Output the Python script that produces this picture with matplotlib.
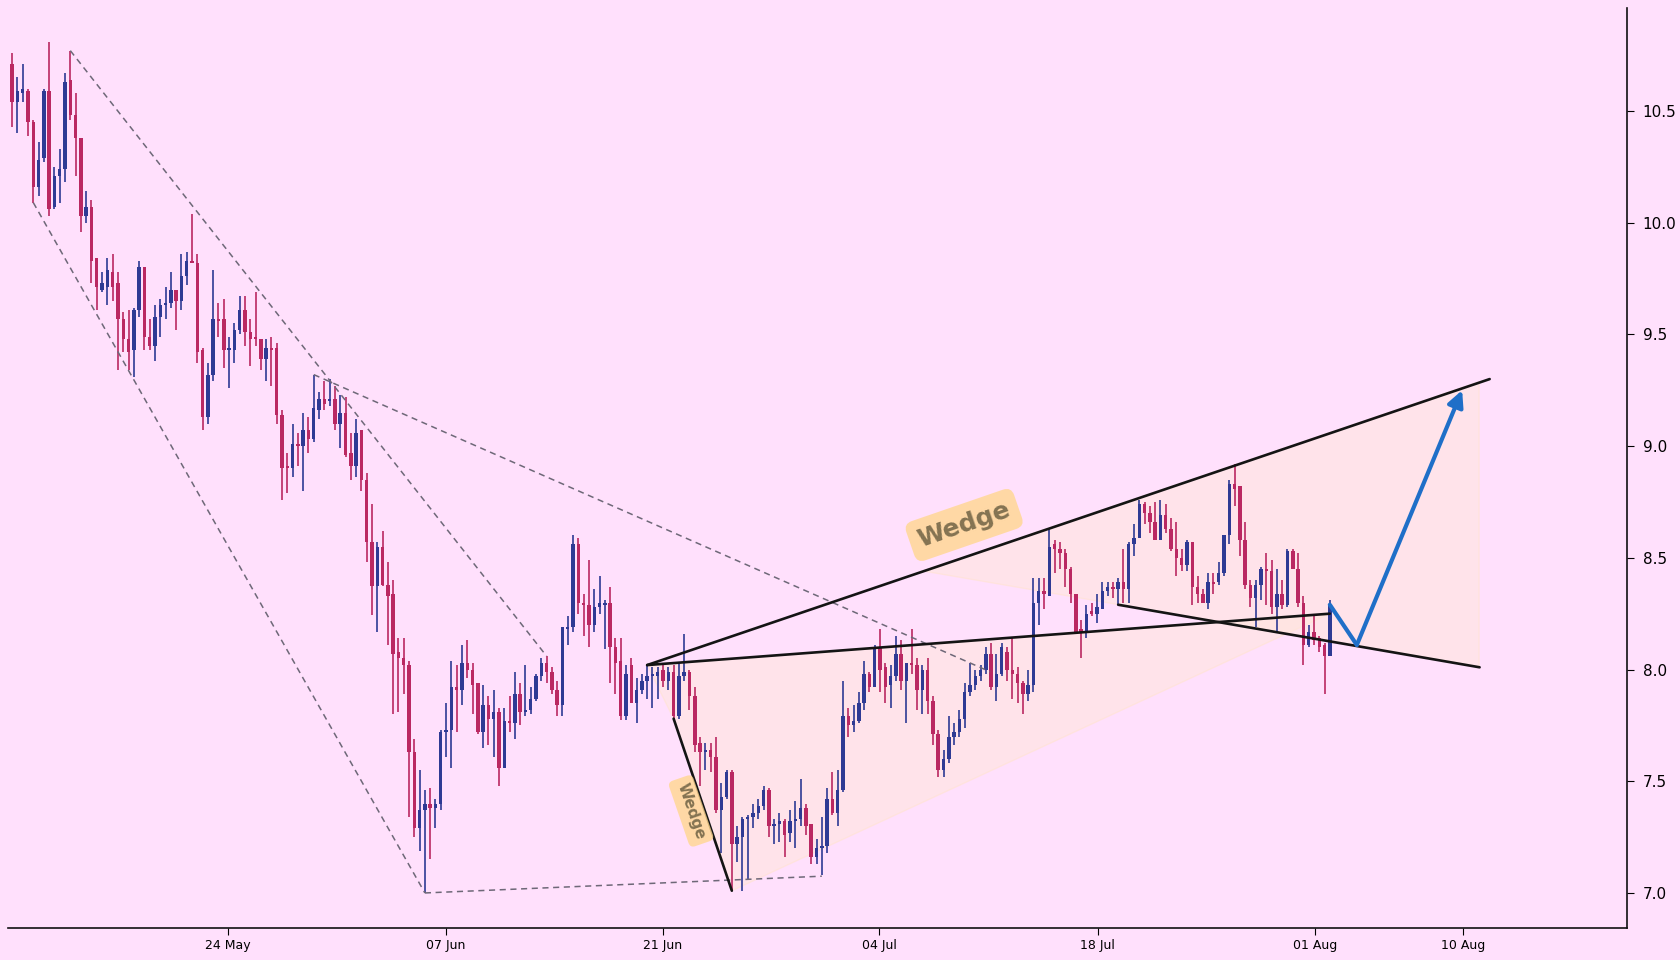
import matplotlib
matplotlib.use("Agg")
import matplotlib.pyplot as plt
import numpy as np
from matplotlib.patches import Polygon

# ---------------- data (8h candles, index based x axis) ----------------
opens = [10.71, 10.54, 10.58, 10.59, 10.45, 10.16, 10.29, 10.59, 10.07, 10.21,
         10.24, 10.64, 10.48, 10.38, 10.03, 10.07, 9.84, 9.70, 9.71, 9.78,
         9.73, 9.57, 9.48, 9.43, 9.61, 9.80, 9.49, 9.45, 9.58, 9.63,
         9.64, 9.70, 9.65, 9.76, 9.83, 9.82, 9.43, 9.13, 9.32, 9.57,
         9.57, 9.43, 9.43, 9.52, 9.61, 9.51, 9.49, 9.48, 9.39, 9.44,
         9.44, 9.14, 8.91, 8.90, 9.01, 9.00, 9.07, 9.03, 9.16, 9.21,
         9.20, 9.21, 9.10, 9.15, 8.97, 8.91, 9.07, 8.85, 8.57, 8.375,
         8.55, 8.38, 8.34, 8.08, 8.05, 8.02, 7.63, 7.29, 7.37, 7.40,
         7.38, 7.40, 7.72, 7.73, 7.92, 7.91, 8.03, 8.00, 7.94, 7.72,
         7.84, 7.78, 7.81, 7.56, 7.77, 7.76, 7.89, 7.81, 7.82, 7.87,
         7.97, 8.03, 7.99, 7.91, 7.84, 8.18, 8.19, 8.56, 8.30, 8.29,
         8.20, 8.28, 8.29, 8.30, 8.10, 8.04, 7.79, 8.02, 7.85, 7.91,
         7.95, 7.97, 7.97, 8.00, 7.95, 7.99, 7.79, 7.97, 7.99, 7.88,
         7.67, 7.63, 7.64, 7.61, 7.37, 7.43, 7.54, 7.22, 7.25, 7.33,
         7.34, 7.36, 7.39, 7.46, 7.30, 7.31, 7.32, 7.27, 7.32, 7.33,
         7.38, 7.31, 7.16, 7.20, 7.21, 7.42, 7.36, 7.46, 7.79, 7.75,
         7.77, 7.85, 7.98, 7.92, 8.10, 8.01, 7.93, 7.97, 8.07, 7.95,
         8.03, 8.02, 7.91, 8.00, 7.86, 7.71, 7.55, 7.60, 7.70, 7.72,
         7.78, 7.90, 7.93, 7.97, 8.00, 8.07, 7.92, 7.98, 8.08, 8.00,
         7.98, 7.94, 7.89, 7.93, 8.30, 8.35, 8.33, 8.56, 8.54, 8.52,
         8.45, 8.34, 8.18, 8.17, 8.26, 8.25, 8.27, 8.35, 8.37, 8.36,
         8.39, 8.36, 8.56, 8.59, 8.74, 8.70, 8.66, 8.58, 8.69, 8.63,
         8.54, 8.50, 8.47, 8.57, 8.37, 8.34, 8.30, 8.39, 8.39, 8.43,
         8.60, 8.83, 8.82, 8.58, 8.38, 8.32, 8.38, 8.45, 8.44, 8.28,
         8.34, 8.29, 8.53, 8.45, 8.30, 8.11, 8.17, 8.14, 8.11, 8.06]
highs = [10.76, 10.65, 10.71, 10.60, 10.46, 10.36, 10.60, 10.81, 10.25, 10.33,
         10.67, 10.77, 10.58, 10.38, 10.14, 10.10, 9.84, 9.78, 9.84, 9.86,
         9.78, 9.60, 9.61, 9.62, 9.83, 9.80, 9.57, 9.63, 9.66, 9.71,
         9.78, 9.70, 9.86, 9.87, 10.04, 9.86, 9.44, 9.37, 9.79, 9.64,
         9.66, 9.49, 9.55, 9.67, 9.67, 9.57, 9.69, 9.48, 9.48, 9.49,
         9.46, 9.16, 8.97, 9.10, 9.06, 9.15, 9.13, 9.32, 9.24, 9.29,
         9.30, 9.27, 9.23, 9.22, 9.06, 9.12, 9.07, 8.88, 8.74, 8.57,
         8.62, 8.48, 8.40, 8.14, 8.14, 8.04, 7.69, 7.55, 7.46, 7.47,
         7.42, 7.73, 7.85, 8.04, 8.02, 8.11, 8.13, 8.03, 7.94, 7.93,
         7.88, 7.91, 7.83, 7.83, 7.88, 7.99, 7.94, 8.02, 7.92, 7.98,
         8.05, 8.06, 8.01, 7.95, 8.19, 8.24, 8.60, 8.59, 8.34, 8.49,
         8.36, 8.42, 8.31, 8.37, 8.14, 8.14, 8.02, 8.05, 7.96, 7.98,
         8.02, 8.01, 8.01, 8.02, 8.01, 8.02, 8.03, 8.16, 8.00, 7.92,
         7.70, 7.67, 7.67, 7.70, 7.49, 7.55, 7.55, 7.30, 7.34, 7.35,
         7.40, 7.42, 7.48, 7.47, 7.33, 7.36, 7.33, 7.37, 7.41, 7.51,
         7.40, 7.31, 7.24, 7.34, 7.47, 7.54, 7.55, 7.95, 7.83, 7.84,
         7.90, 8.04, 7.99, 8.11, 8.18, 8.03, 8.02, 8.15, 8.13, 8.03,
         8.18, 8.05, 8.02, 8.05, 7.88, 7.73, 7.64, 7.79, 7.76, 7.82,
         7.94, 8.03, 8.00, 8.02, 8.10, 8.12, 8.07, 8.12, 8.10, 8.14,
         8.01, 7.95, 8.00, 8.41, 8.41, 8.41, 8.63, 8.58, 8.57, 8.54,
         8.46, 8.34, 8.22, 8.29, 8.30, 8.34, 8.39, 8.39, 8.39, 8.41,
         8.54, 8.57, 8.65, 8.76, 8.75, 8.73, 8.75, 8.76, 8.74, 8.68,
         8.66, 8.54, 8.58, 8.57, 8.42, 8.36, 8.43, 8.43, 8.48, 8.60,
         8.85, 8.92, 8.82, 8.66, 8.40, 8.40, 8.46, 8.52, 8.49, 8.45,
         8.40, 8.54, 8.54, 8.52, 8.33, 8.20, 8.24, 8.15, 8.12, 8.31]
lows = [10.43, 10.40, 10.54, 10.39, 10.09, 10.12, 10.27, 10.03, 10.06, 10.09,
        10.18, 10.46, 10.21, 9.96, 10.00, 9.73, 9.61, 9.69, 9.63, 9.65,
        9.34, 9.42, 9.34, 9.31, 9.58, 9.43, 9.43, 9.38, 9.49, 9.57,
        9.62, 9.52, 9.61, 9.72, 9.82, 9.37, 9.07, 9.10, 9.29, 9.49,
        9.35, 9.26, 9.37, 9.50, 9.45, 9.36, 9.45, 9.34, 9.29, 9.27,
        9.10, 8.76, 8.79, 8.86, 8.91, 8.80, 8.97, 9.02, 9.12, 9.16,
        9.18, 9.07, 8.99, 8.95, 8.85, 8.86, 8.80, 8.48, 8.245, 8.17,
        8.375, 8.11, 7.80, 7.81, 7.89, 7.34, 7.25, 7.19, 7.00, 7.15,
        7.29, 7.37, 7.61, 7.56, 7.72, 7.84, 7.96, 7.80, 7.71, 7.65,
        7.66, 7.61, 7.48, 7.56, 7.72, 7.69, 7.75, 7.79, 7.80, 7.86,
        7.95, 7.94, 7.89, 7.79, 7.79, 8.11, 8.17, 8.25, 8.15, 8.10,
        8.17, 8.25, 8.09, 7.94, 7.89, 7.775, 7.775, 7.85, 7.76, 7.89,
        7.87, 7.83, 7.87, 7.92, 7.91, 7.78, 7.78, 7.95, 7.82, 7.63,
        7.48, 7.55, 7.54, 7.36, 7.18, 7.42, 7.01, 7.14, 7.01, 7.06,
        7.29, 7.33, 7.37, 7.25, 7.22, 7.23, 7.16, 7.23, 7.20, 7.30,
        7.26, 7.13, 7.13, 7.08, 7.18, 7.35, 7.30, 7.45, 7.70, 7.72,
        7.76, 7.82, 7.90, 7.92, 7.90, 7.85, 7.83, 7.95, 7.91, 7.76,
        7.98, 7.82, 7.80, 7.80, 7.66, 7.52, 7.52, 7.58, 7.66, 7.70,
        7.74, 7.88, 7.91, 7.95, 7.98, 7.91, 7.86, 7.97, 7.95, 7.87,
        7.85, 7.80, 7.86, 7.90, 8.20, 8.27, 8.33, 8.43, 8.45, 8.37,
        8.30, 8.17, 8.05, 8.14, 8.24, 8.21, 8.27, 8.33, 8.32, 8.29,
        8.30, 8.30, 8.51, 8.59, 8.65, 8.61, 8.58, 8.58, 8.61, 8.53,
        8.42, 8.44, 8.44, 8.29, 8.30, 8.30, 8.27, 8.34, 8.38, 8.42,
        8.56, 8.73, 8.51, 8.36, 8.28, 8.19, 8.31, 8.29, 8.25, 8.17,
        8.27, 8.28, 8.45, 8.28, 8.02, 8.10, 8.11, 8.08, 7.89, 8.06]
closes = [10.54, 10.59, 10.60, 10.45, 10.16, 10.28, 10.59, 10.06, 10.21, 10.24,
          10.63, 10.48, 10.38, 10.03, 10.07, 9.83, 9.71, 9.73, 9.79, 9.71,
          9.57, 9.48, 9.42, 9.61, 9.80, 9.49, 9.45, 9.58, 9.63, 9.64,
          9.70, 9.65, 9.76, 9.83, 9.82, 9.42, 9.13, 9.32, 9.57, 9.56,
          9.43, 9.44, 9.52, 9.61, 9.51, 9.48, 9.48, 9.39, 9.44, 9.43,
          9.14, 8.90, 8.90, 9.01, 9.00, 9.07, 9.03, 9.17, 9.21, 9.19,
          9.21, 9.10, 9.15, 8.96, 8.91, 9.06, 8.85, 8.57, 8.375, 8.55,
          8.38, 8.33, 8.07, 8.05, 8.02, 7.63, 7.29, 7.37, 7.40, 7.38,
          7.40, 7.72, 7.73, 7.92, 7.91, 8.03, 8.00, 7.93, 7.72, 7.84,
          7.78, 7.81, 7.56, 7.77, 7.76, 7.89, 7.81, 7.82, 7.87, 7.97,
          8.03, 7.99, 7.91, 7.84, 8.19, 8.19, 8.56, 8.30, 8.29, 8.20,
          8.28, 8.30, 8.30, 8.10, 8.03, 7.79, 7.98, 7.85, 7.91, 7.95,
          7.97, 7.975, 7.99, 7.95, 7.99, 7.79, 7.97, 7.99, 7.88, 7.66,
          7.63, 7.64, 7.61, 7.37, 7.43, 7.54, 7.22, 7.25, 7.33, 7.34,
          7.36, 7.39, 7.46, 7.30, 7.31, 7.32, 7.26, 7.32, 7.33, 7.38,
          7.30, 7.16, 7.20, 7.21, 7.42, 7.36, 7.46, 7.79, 7.75, 7.77,
          7.85, 7.98, 7.92, 8.10, 8.00, 7.92, 7.97, 8.07, 7.95, 8.03,
          8.02, 7.91, 8.00, 7.86, 7.71, 7.55, 7.60, 7.70, 7.72, 7.78,
          7.90, 7.93, 7.97, 8.00, 8.07, 7.92, 7.98, 8.10, 8.00, 7.98,
          7.94, 7.89, 7.93, 8.30, 8.35, 8.34, 8.55, 8.54, 8.52, 8.45,
          8.34, 8.17, 8.17, 8.25, 8.25, 8.28, 8.35, 8.37, 8.36, 8.39,
          8.36, 8.56, 8.59, 8.74, 8.70, 8.66, 8.58, 8.69, 8.63, 8.54,
          8.50, 8.47, 8.57, 8.37, 8.34, 8.30, 8.39, 8.385, 8.43, 8.60,
          8.83, 8.81, 8.58, 8.38, 8.32, 8.38, 8.45, 8.44, 8.28, 8.34,
          8.29, 8.53, 8.45, 8.30, 8.11, 8.17, 8.13, 8.10, 8.06, 8.29]

tick_pos = [40.8, 81.9, 123.0, 163.8, 205.1, 246.2, 274.1]
tick_labels = ["24 May", "07 Jun", "21 Jun", "04 Jul", "18 Jul", "01 Aug", "10 Aug"]
y_ticks = [7.0, 7.5, 8.0, 8.5, 9.0, 9.5, 10.0, 10.5]

# drawing tool anchors (candle index, price)
dashed_lines = [
    ([11, 101], [10.77, 8.06]),
    ([57, 184.8], [9.32, 7.99]),
    ([4, 78], [10.09, 7.00]),
    ([78, 153], [7.00, 7.075]),
]
upper_line = ([120, 279.2], [8.02, 9.30])
flat_line = ([120, 249], [8.02, 8.25])
falling_line = ([125, 136], [7.78, 7.01])
desc_line = ([209, 277.3], [8.29, 8.01])
wedge1_poly = [(120, 8.02), (249, 8.25), (136, 7.01), (125, 7.78)]
wedge2_poly = [(172.2, 8.441), (277.2, 9.287), (277.2, 8.013)]
path_x = [249, 254.1]
path_y = [8.29, 8.11]
arrow_tip = (274, 9.25)
label_big = (179.9, 8.647)
label_small = (128.3, 7.367)

# ---------------- figure ----------------
BG = "#FFE0FC"
UP = "#2E3A94"
DOWN = "#BA2862"

fig = plt.figure(figsize=(16.8, 9.6), dpi=100)
fig.patch.set_facecolor(BG)
ax = fig.add_axes([0.005, 0.0333, 0.9636, 0.9584])
ax.set_facecolor(BG)

n = len(opens)
x = np.arange(n)
o = np.array(opens); h = np.array(highs); l = np.array(lows); c = np.array(closes)
cols = np.where(c >= o, UP, DOWN)

# wedge fills
ax.add_patch(Polygon(wedge1_poly, closed=True, facecolor="#FFE6DC", alpha=0.55,
                     edgecolor="#FFE3CF", lw=1.0, zorder=1))
ax.add_patch(Polygon(wedge2_poly, closed=True, facecolor="#FFE6DC", alpha=0.55,
                     edgecolor="#FFE3CF", lw=1.0, zorder=1))

# candles
ax.vlines(x, l, h, colors=cols, linewidth=1.2, zorder=3)
body_h = np.maximum(np.abs(c - o), 0.008)
ax.bar(x, body_h, bottom=np.minimum(o, c), width=0.65, color=cols,
       linewidth=0, zorder=4)

# dashed trend lines
for xs, ys in dashed_lines:
    ax.plot(xs, ys, color="#6E6878", lw=1.1, ls=(0, (4, 3)), zorder=5)

# wedge lines
for xs, ys in (upper_line, flat_line, falling_line, desc_line):
    ax.plot(xs, ys, color="#141414", lw=1.9, solid_capstyle="round", zorder=6)

# projected path
ax.plot(path_x, path_y, color="#1F6FC8", lw=3.0, zorder=7, solid_capstyle="round")
ax.annotate("", xy=arrow_tip, xytext=(path_x[-1], path_y[-1]),
            arrowprops=dict(arrowstyle="-|>", color="#1F6FC8", lw=3.0,
                            mutation_scale=24, shrinkA=0, shrinkB=0),
            zorder=7)

# labels
ax.text(label_big[0], label_big[1], "Wedge", rotation=19, ha="center", va="center",
        fontsize=18, fontweight="bold", color="#847352", zorder=8,
        rotation_mode="anchor",
        bbox=dict(boxstyle="round,pad=0.35", fc="#FFD78F", ec="none", alpha=0.8))
ax.text(label_small[0], label_small[1], "Wedge", rotation=-71, ha="center", va="center",
        fontsize=11, fontweight="bold", color="#847352", zorder=8,
        rotation_mode="anchor",
        bbox=dict(boxstyle="round,pad=0.35", fc="#FFD78F", ec="none", alpha=0.8))

# axes styling
ax.set_xlim(-0.7, 305.2)
ax.set_ylim(6.843, 10.961)
ax.yaxis.tick_right()
ax.set_yticks(y_ticks)
ax.set_yticklabels([f"{v:.1f}" for v in y_ticks], fontsize=11)
ax.set_xticks(tick_pos)
ax.set_xticklabels(tick_labels, fontsize=9)
ax.tick_params(axis="x", length=5, width=0.8, pad=3)
ax.tick_params(axis="y", length=5, width=0.8, pad=6)
for s in ("left", "top"):
    ax.spines[s].set_visible(False)
for s in ("right", "bottom"):
    ax.spines[s].set_linewidth(1.2)
    ax.spines[s].set_color("#111111")

fig.savefig("out.png", dpi=100, facecolor=BG)
